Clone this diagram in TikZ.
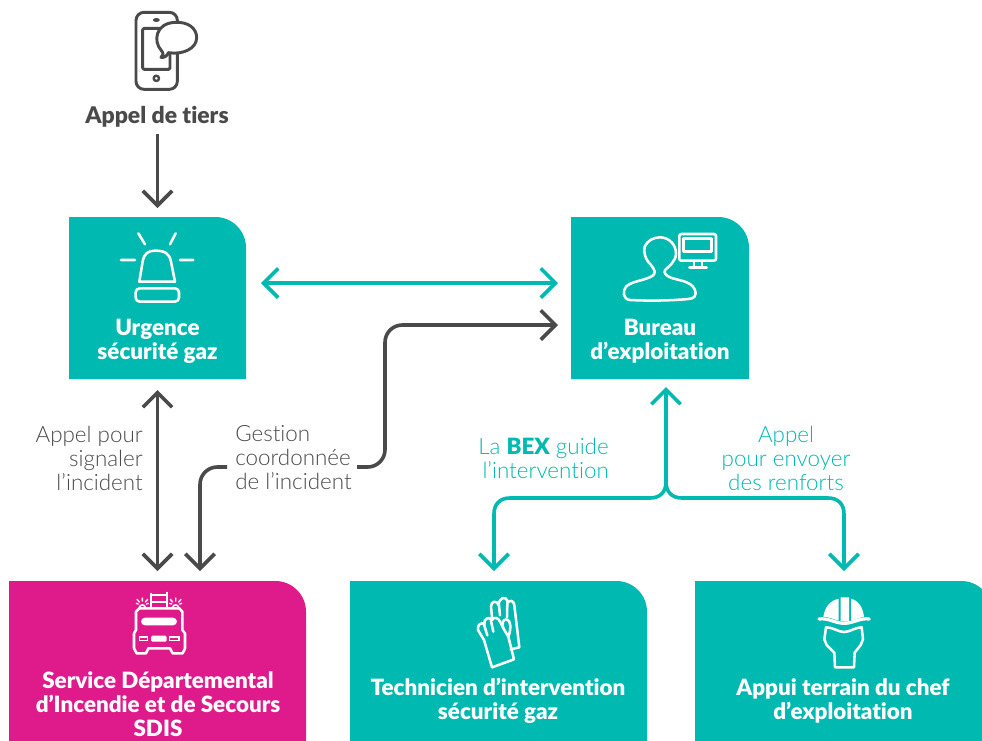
\documentclass[tikz,border=0pt]{standalone}
\usepackage{fontspec}
\setmainfont[Ligatures=NoCommon]{Lato}
\newfontfamily\lightf[Ligatures=NoCommon]{Lato Light}
\newfontfamily\heavyf[Ligatures=NoCommon]{Lato Black}
\usetikzlibrary{arrows.meta,calc}
\definecolor{tealc}{HTML}{00B9B0}
\definecolor{magc}{HTML}{DF1B8C}
\definecolor{grayc}{HTML}{4A4A4A}
\tikzset{
  chev/.tip={Straight Barb[length=11pt,width=22pt]},
  grayline/.style={draw=grayc,line width=2.7pt,line join=round},
  tealline/.style={draw=tealc,line width=2.7pt,line join=round},
  panel/.style={rectangle,inner sep=0pt,outer sep=0pt,draw=none},
  paneltxt/.style={text=white,align=center,font=\fontsize{16.8}{18}\selectfont\heavyf,inner sep=0pt},
  lab/.style={inner sep=0pt,font=\fontsize{16.8}{18}\selectfont\lightf},
  ico/.style={draw=white,line width=1.9pt,line join=round,line cap=round},
  grico/.style={draw=grayc,line width=2.2pt,line join=round,line cap=round},
}
\newcommand{\panelfill}[2]{\fill[#2] (#1.south west) -- (#1.north west) [rounded corners=23pt] -- (#1.north east) [sharp corners] -- (#1.south east) -- cycle;}
\begin{document}
\begin{tikzpicture}[x=.75pt,y=-.75pt]
\useasboundingbox (0,0) rectangle (982,740);
\fill[white] (0,0) rectangle (982,740);
\begin{scope}
\clip (0,0) rectangle (982,740);
% panels
\node[panel,minimum width=132.75pt,minimum height=121.5pt] (urg) at (157.5,298) {};
\node[panel,minimum width=133.5pt,minimum height=121.5pt] (bur) at (660,298) {};
\node[panel,minimum width=222.75pt,minimum height=121.5pt] (sdis) at (157.5,662) {};
\node[panel,minimum width=222.75pt,minimum height=121.5pt] (tech) at (498.5,662) {};
\node[panel,minimum width=222.75pt,minimum height=121.5pt] (appui) at (843.5,662) {};
\panelfill{urg}{tealc}
\panelfill{bur}{tealc}
\panelfill{sdis}{magc}
\panelfill{tech}{tealc}
\panelfill{appui}{tealc}
\end{scope}
% panel texts
\node[paneltxt] (urgt) at (157.5,341) {Urgence\\sécurité gaz};
\node[paneltxt] (burt) at (660,341) {Bureau\\d’exploitation};
\node[paneltxt] (sdist) at (158,704) {Service Départemental\\d’Incendie et de Secours\\SDIS};
\node[paneltxt] (techt) at (498,701) {Technicien d’intervention\\sécurité gaz};
\node[paneltxt] (appuit) at (843,701) {Appui terrain du chef\\d’exploitation};
% top label
\node[inner sep=0pt,text=grayc,font=\fontsize{17.2}{18}\selectfont\heavyf] (tiers) at (157,117) {Appel de tiers};
% side labels
\node[lab,text=grayc,align=right,anchor=east] (lab1) at (143,458) {Appel pour\\signaler\\l’incident};
\node[lab,text=grayc,align=left,anchor=west] (gest) at (235,458) {Gestion\\coordonnée\\de l’incident};
\node[lab,text=tealc,align=right,anchor=east] (lab3) at (609,458) {La {\heavyf BEX} guide\\l’intervention};
\node[lab,text=tealc,align=center] (lab4) at (786,458) {Appel\\pour envoyer\\des renforts};
% connectors
\coordinate (tstart) at (157.5,134);
\draw[grayline,-{chev}] (tstart) -- ([shift={(0,-9)}]urg.north);
\draw[tealline,{chev}-{chev}] ([shift={(15,-15)}]urg.east) -- ([shift={(-13,-15)}]bur.west);
\draw[grayline,-{chev},rounded corners=13pt] ([shift={(122,9)}]gest.west) -- (385,467) -- (385,325) -- ([shift={(-13,27)}]bur.west);
\draw[grayline,{chev}-{chev}] ([shift={(0,11)}]urg.south) -- ([shift={(0,-10)}]sdis.north);
\draw[grayline,-{chev},rounded corners=13pt] ([shift={(-8,9)}]gest.west) -- (200,467) -- ([shift={(42.5,-10)}]sdis.north);
\coordinate (jl) at (650,498);
\coordinate (jc) at (666,482);
\coordinate (jr) at (682,498);
\draw[tealline,{chev}-{chev}] ([shift={(-4.5,-10)}]tech.north) -- (494,514) .. controls (494,504) and (500,498) .. (510,498) -- (jl) .. controls (660,498) and (666,492) .. (jc) -- ([shift={(6,8)}]bur.south);
\draw[tealline,{chev}-] ([shift={(0.5,-10)}]appui.north) -- (844,514) .. controls (844,504) and (838,498) .. (828,498) -- (jr) .. controls (672,498) and (666,492) .. (jc);
% phone icon
\begin{scope}[shift={(60,0)},x=.25pt,y=-.25pt]
\draw[grico,rounded corners=6pt] (228,37) rectangle (352,268);
\draw[grico,rounded corners=1pt] (248,85) rectangle (330,208);
\fill[grayc] (289,60) ellipse (2.6pt and 1.5pt);
\draw[grico,line width=1.8pt] (289,235) circle (2pt);
\filldraw[grico,fill=white] (303,150) .. controls (280,125) and (285,70) .. (345,67)
  .. controls (385,65) and (410,85) .. (410,113) .. controls (410,145) and (370,165) .. (325,158)
  .. controls (322,168) and (312,174) .. (303,172) .. controls (310,168) and (312,160) .. cycle;
\end{scope}
% siren
\begin{scope}[shift={(60,0)},x=.25pt,y=-.25pt]
\draw[ico] (238,845) -- (248,785) .. controls (252,760) and (265,752) .. (285,752) .. controls (315,752) and (328,760) .. (333,785) -- (345,845) -- cycle;
\draw[ico,rounded corners=3pt] (227,865) rectangle (357,905);
\draw[ico] (183,780) -- (225,780) (360,780) -- (400,780) (235,700) -- (255,733) (347,700) -- (330,733);
\end{scope}
% person + monitor
\begin{scope}[shift={(570,210)},x=.25pt,y=-.25pt]
\draw[ico] (180,270) .. controls (160,268) and (155,245) .. (170,228) .. controls (190,212) and (225,212) .. (248,197)
  .. controls (258,190) and (255,180) .. (243,165) .. controls (225,148) and (220,125) .. (224,110)
  .. controls (232,92) and (250,82) .. (270,82) .. controls (298,82) and (318,105) .. (318,130)
  .. controls (318,155) and (295,170) .. (285,180) .. controls (280,190) and (290,197) .. (300,202)
  .. controls (325,212) and (362,212) .. (374,238) .. controls (382,258) and (372,266) .. (355,267) .. controls (300,272) and (240,273) .. cycle;
\draw[ico,rounded corners=1.5pt] (328,72) rectangle (438,152);
\draw[ico] (341,85) rectangle (425,125);
\draw[ico] (372,152) -- (372,170) (396,152) -- (396,170) (358,172) -- (410,172);
\end{scope}
% truck
\begin{scope}[shift={(0,570)},x=.25pt,y=-.25pt]
\draw[ico] (418,115) -- (538,115) -- (547,125) -- (547,180) -- (555,190) -- (555,235) -- (548,250) -- (518,250) -- (510,235) -- (445,235) -- (438,250) -- (410,250) -- (402,235) -- (402,190) -- (408,180) -- (408,125) -- cycle;
\fill[white,rounded corners=3pt] (423,143) rectangle (531,166);
\fill[white,rounded corners=1pt] (453,197) rectangle (500,215);
\draw[white,line width=1.2pt] (418,201) rectangle (443,212) (508,201) rectangle (537,212);
\draw[white,line width=1.6pt] (452,68) -- (452,115) (500,65) -- (500,115) (452,75) -- (500,75) (452,95) -- (500,95);
\foreach \c in {427,527}{
  \draw[white,line width=1.2pt] (\c-9,113) .. controls (\c-8,102) and (\c+8,102) .. (\c+9,113);
  \draw[white,line width=1pt,line cap=round] (\c-16,88) -- (\c-9,96) (\c+16,88) -- (\c+9,96) (\c,84) -- (\c,93) (\c-18,100) -- (\c-12,102) (\c+18,100) -- (\c+12,102);
}
\end{scope}
% gloves
\begin{scope}[shift={(450,580)},x=.25pt,y=-.25pt]
\draw[ico] (126,112) -- (123,80) .. controls (122,62) and (143,60) .. (146,76)
  .. controls (146,52) and (170,44) .. (173,68) .. controls (180,58) and (192,62) .. (193,76) -- (208,202) -- (182,208);
\draw[ico] (150,106) -- (147,76) (171,112) -- (172,68);
\draw[ico] (126,262) -- (192,238) -- (175,170) .. controls (185,145) and (182,120) .. (170,118) .. controls (158,118) and (155,130) .. (160,145) ;
\draw[ico] (126,262) -- (102,180) -- (84,150) .. controls (80,135) and (95,125) .. (103,132)
  .. controls (100,115) and (120,108) .. (126,120) .. controls (130,110) and (146,112) .. (150,125) -- (160,145) -- (175,170);
\draw[ico] (112,166) -- (101,130) (130,155) -- (122,118);
\end{scope}
% helmet
\begin{scope}[shift={(790,580)},x=.25pt,y=-.25pt]
\fill[white] (100,110) .. controls (105,80) and (120,62) .. (146,56) -- (146,122) .. controls (130,118) and (115,110) .. cycle;
\fill[white] (152,52) -- (177,52) -- (177,125) -- (152,124) -- cycle;
\fill[white] (183,56) .. controls (205,62) and (218,80) .. (222,110) .. controls (210,112) and (195,120) .. (183,122) -- cycle;
\draw[ico,line width=2.4pt] (87,117) .. controls (115,113) and (135,130) .. (163,130) .. controls (190,130) and (210,113) .. (238,117);
\draw[ico] (108,142) .. controls (130,142) and (145,156) .. (162,156) .. controls (180,156) and (195,142) .. (215,142)
  -- (219,178) -- (212,195) -- (194,218) -- (192,262) -- (135,262) -- (133,218) -- (110,195) -- (103,178) -- cycle;
\end{scope}
\end{tikzpicture}
\end{document}
